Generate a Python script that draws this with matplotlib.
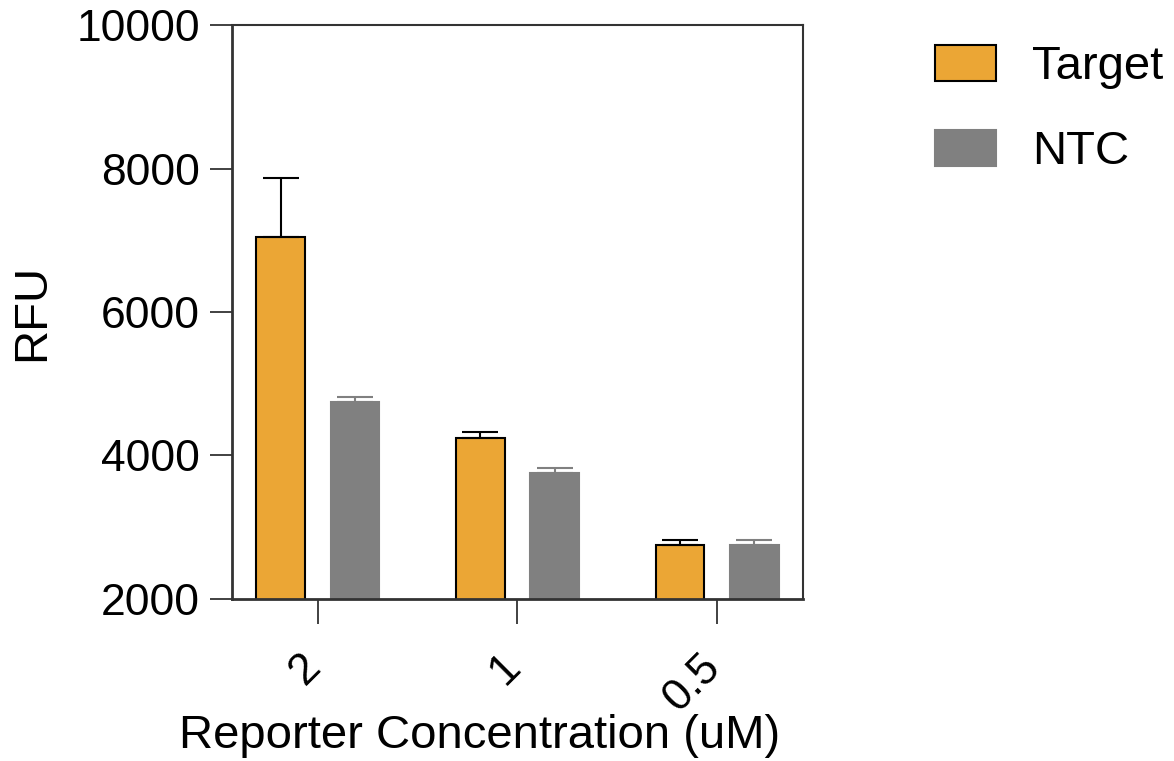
import numpy as np
import matplotlib.pyplot as plt
from matplotlib.transforms import ScaledTranslation

plt.rcParams['font.family'] = ['Liberation Sans', 'DejaVu Sans']

concentrations = ["2", "1", "0.5"]
target_mean = [7045, 4244, 2753]
target_err = [823, 83, 69]
ntc_mean = [4746, 3756, 2753]
ntc_err = [69, 70, 69]

orange = "#EBA635"
gray = "#808080"
axis_col = "#333333"

fig = plt.figure(figsize=(11.74, 7.61), dpi=100)
ax = fig.add_axes([0.1976, 0.2129, 0.4864, 0.7542])

x = np.arange(len(concentrations))
w = 0.245
off = 0.186

ax.bar(x - off, target_mean, w, color=orange, edgecolor="black",
       linewidth=1.5, label="Target", zorder=2)
ax.errorbar(x - off, target_mean, yerr=[np.zeros(3), target_err], fmt="none",
            ecolor="black", elinewidth=1.5, capsize=13, capthick=1.5, zorder=3)
ax.bar(x + off, ntc_mean, w, color=gray, edgecolor=gray, linewidth=1.5,
       label="NTC", zorder=2)
ax.errorbar(x + off, ntc_mean, yerr=[np.zeros(3), ntc_err], fmt="none",
            ecolor=gray, elinewidth=1.5, capsize=13, capthick=1.5, zorder=3)

ax.set_ylim(2000, 10000)
ax.set_xlim(-0.43, 2.43)
ax.set_yticks([2000, 4000, 6000, 8000, 10000])
ax.set_xticks(x)
ax.set_xticklabels(concentrations, rotation=45, ha="right", rotation_mode="anchor")

for s in ax.spines.values():
    s.set_linewidth(1.5)
    s.set_color(axis_col)
ax.spines['left'].set_linewidth(2)
ax.spines['bottom'].set_linewidth(2)

ax.tick_params(axis='y', length=16, width=1.3, labelsize=32, pad=7, color=axis_col)
ax.tick_params(axis='x', length=18, width=1.3, labelsize=32, pad=16, color=axis_col)

# shift rotated tick labels a bit to the left, like the original
shift = ScaledTranslation(-0.18, 0, fig.dpi_scale_trans)
for lab in ax.get_xticklabels():
    lab.set_transform(lab.get_transform() + shift)

ax.set_ylabel("RFU", fontsize=34, labelpad=16)
ax.set_xlabel("Reporter Concentration (uM)", fontsize=34, labelpad=2)
ax.xaxis.set_label_coords(0.433, -0.2)

ax.legend(loc="upper left", bbox_to_anchor=(935 / 1174, 1 - 45 / 761),
          bbox_transform=fig.transFigure, frameon=False, borderpad=0,
          borderaxespad=0, fontsize=34, handlelength=1.3, handleheight=0.8,
          labelspacing=0.85, handletextpad=0.75)

fig.savefig("out.png", dpi=100)
